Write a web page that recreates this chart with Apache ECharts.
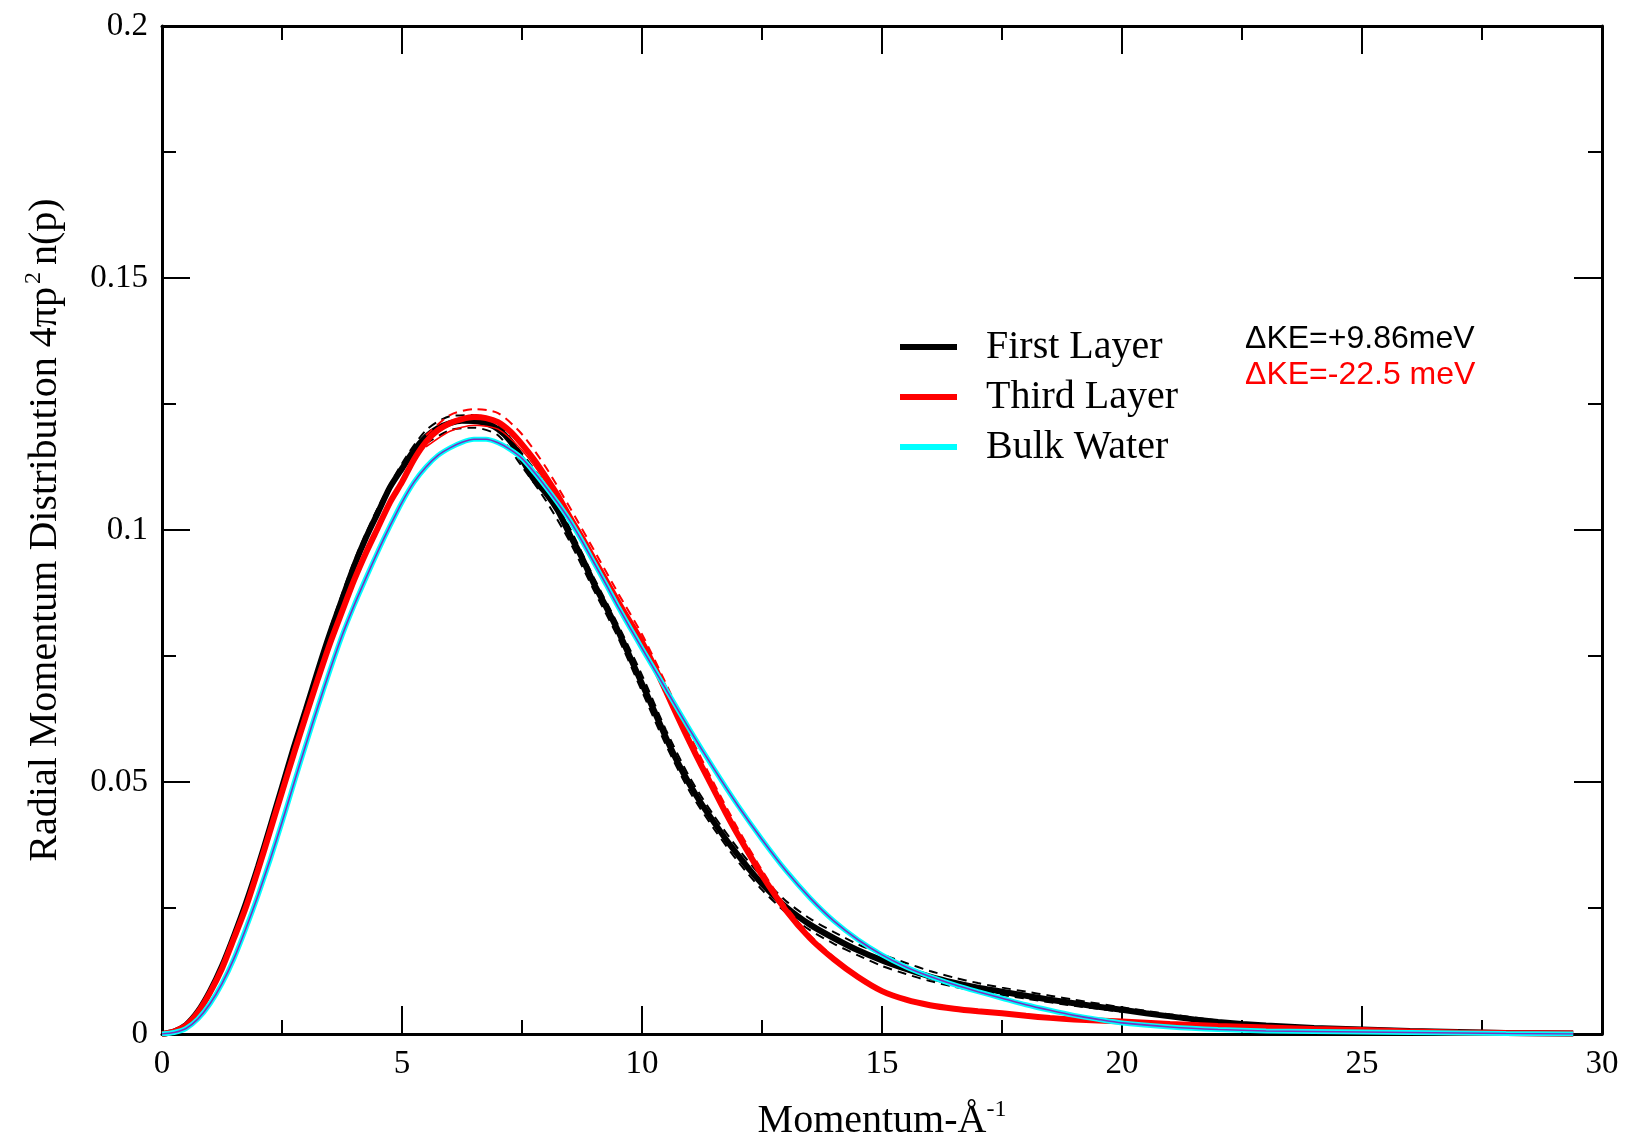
<!DOCTYPE html>
<html>
<head>
<meta charset="utf-8">
<script src="https://cdn.jsdelivr.net/npm/echarts@6/dist/echarts.min.js"></script>
<style>html,body{margin:0;padding:0;background:#fff}#c{width:1627px;height:1142px}</style>
</head>
<body>
<div id="c"></div>
<script>
// Momentum (1/Å) , 4πp²n(p)
const firstLayer = [[0,0],[0.25,0.0005],[0.5,0.0018],[0.75,0.0045],[1,0.0085],[1.25,0.0135],[1.5,0.0195],[1.75,0.026],[2,0.0332],[2.25,0.041],[2.5,0.049],[2.75,0.057],[3,0.0645],[3.25,0.0722],[3.5,0.0795],[3.75,0.0862],[4,0.0928],[4.25,0.0985],[4.5,0.1035],[4.75,0.1085],[5,0.1122],[5.25,0.1158],[5.5,0.1185],[5.75,0.1202],[6,0.1212],[6.25,0.1217],[6.5,0.1216],[6.75,0.1212],[7,0.12],[7.25,0.1177],[7.5,0.114],[7.75,0.11],[8,0.1073],[8.25,0.1038],[8.5,0.099],[8.75,0.0945],[9,0.0893],[9.25,0.0848],[9.5,0.08],[9.75,0.0748],[10,0.0695],[10.25,0.0642],[10.5,0.0588],[10.75,0.0538],[11,0.0494],[11.25,0.0455],[11.5,0.042],[11.75,0.0386],[12,0.0355],[12.25,0.0325],[12.5,0.0298],[13,0.0252],[13.5,0.0217],[14,0.019],[14.5,0.0166],[15,0.0146],[15.5,0.0129],[16,0.0114],[16.5,0.0102],[17,0.0092],[17.5,0.0084],[18,0.0076],[18.5,0.0068],[19,0.0061],[19.5,0.0054],[20,0.0048],[20.5,0.0041],[21,0.0035],[21.5,0.0029],[22,0.0024],[22.5,0.002],[23,0.0017],[24,0.0012],[25,0.0009],[26,0.0006],[27,0.0004],[28,0.0002],[29.4,0.0001]];
const firstUpper = [[3.5,0.0805],[4,0.0938],[4.5,0.1045],[5,0.1132],[5.5,0.1198],[6,0.1226],[6.5,0.1228],[7,0.121],[7.5,0.1152],[8,0.1088],[8.5,0.1003],[9,0.0905],[9.5,0.0812],[10,0.0712],[10.5,0.0603],[11,0.0508],[11.5,0.0433],[12,0.0368],[12.5,0.0311],[13,0.0264],[13.5,0.0229],[14,0.0202],[14.5,0.0178],[15,0.0158],[15.5,0.0141],[16,0.0125],[16.5,0.0112],[17,0.0101],[17.5,0.0092],[18,0.0084],[18.5,0.0076],[19,0.0068],[20,0.0053],[21,0.0039],[22,0.0027]];
const firstLower = [[5.5,0.1172],[6,0.1198],[6.5,0.1203],[7,0.1188],[7.5,0.1126],[8,0.1058],[8.5,0.0976],[9,0.088],[9.5,0.0787],[10,0.068],[10.5,0.0573],[11,0.048],[11.5,0.0407],[12,0.0342],[12.5,0.0286],[13,0.0241],[13.5,0.0206],[14,0.0179],[14.5,0.0156],[15,0.0135],[15.5,0.0119],[16,0.0105],[16.5,0.0094],[17,0.0085],[18,0.007],[19,0.0056],[20,0.0044]];
const thirdLayer = [[0,0],[0.25,0.0005],[0.5,0.0017],[0.75,0.0043],[1,0.0082],[1.25,0.013],[1.5,0.019],[1.75,0.0252],[2,0.0325],[2.25,0.0402],[2.5,0.048],[2.75,0.0557],[3,0.0632],[3.25,0.0705],[3.5,0.0775],[3.75,0.0838],[4,0.09],[4.25,0.0955],[4.5,0.1005],[4.75,0.1055],[5,0.1095],[5.25,0.114],[5.5,0.1175],[5.75,0.1198],[6,0.1212],[6.25,0.122],[6.5,0.1224],[6.75,0.1222],[7,0.1214],[7.25,0.1196],[7.5,0.117],[7.75,0.114],[8,0.1105],[8.25,0.1068],[8.5,0.1025],[8.75,0.0985],[9,0.0942],[9.25,0.09],[9.5,0.0858],[9.75,0.0818],[10,0.0778],[10.25,0.0731],[10.5,0.068],[10.75,0.0628],[11,0.0578],[11.25,0.053],[11.5,0.0484],[11.75,0.0438],[12,0.0395],[12.5,0.0315],[13,0.0245],[13.5,0.019],[14,0.0148],[14.5,0.0113],[15,0.0085],[15.5,0.0068],[16,0.0057],[16.5,0.005],[17,0.0045],[17.5,0.0041],[18,0.0036],[18.5,0.0032],[19,0.0029],[20,0.0025],[21,0.002],[22,0.0016],[23,0.0013],[24,0.001],[25,0.0008],[26,0.0005],[27,0.0003],[28,0.0002],[29.4,0.0001]];
const thirdUpper = [[5.5,0.1188],[6,0.1228],[6.5,0.124],[7,0.1232],[7.5,0.119],[8,0.1124],[8.5,0.1044],[9,0.096],[9.5,0.0875],[10,0.0793],[10.5,0.0695],[11,0.0592],[11.5,0.0497],[12,0.0407],[12.5,0.0325],[13,0.0253],[13.5,0.0196],[14,0.0152]];
const thirdInner = [[5.5,0.1165],[6,0.1196],[6.5,0.1208],[7,0.12],[7.5,0.1158],[8,0.1094],[8.5,0.1015]];
const bulkWater = [[0,0],[0.25,0.0003],[0.5,0.0011],[0.75,0.003],[1,0.006],[1.25,0.01],[1.5,0.015],[1.75,0.021],[2,0.0275],[2.25,0.0345],[2.5,0.042],[2.75,0.0498],[3,0.0575],[3.25,0.065],[3.5,0.0722],[3.75,0.079],[4,0.085],[4.25,0.0905],[4.5,0.0958],[4.75,0.1008],[5,0.1055],[5.25,0.1095],[5.5,0.1125],[5.75,0.1148],[6,0.1163],[6.25,0.1174],[6.5,0.118],[6.75,0.118],[7,0.1173],[7.25,0.116],[7.5,0.1142],[7.75,0.1115],[8,0.1085],[8.25,0.1053],[8.5,0.1018],[8.75,0.0978],[9,0.0935],[9.25,0.0892],[9.5,0.0848],[9.75,0.0806],[10,0.0765],[10.5,0.0684],[11,0.0603],[11.5,0.0526],[12,0.0453],[12.5,0.0386],[13,0.0324],[13.5,0.027],[14,0.0224],[14.5,0.0187],[15,0.0157],[15.5,0.0133],[16,0.0114],[16.5,0.0098],[17,0.0084],[17.5,0.0071],[18,0.0058],[18.5,0.0047],[19,0.0037],[19.5,0.0029],[20,0.0022],[21,0.0014],[22,0.0009],[23,0.0006],[24,0.0005],[25,0.0004],[26,0.0003],[27,0.0002],[28,0.0001],[29.4,0]];
const seriesNames = ['First Layer', 'Third Layer', 'Bulk Water'];
const annotations = ['ΔKE=+9.86meV', 'ΔKE=-22.5 meV'];
const xTitle = 'Momentum-Å{sup|-1}';
const yTitle = 'Radial Momentum Distribution 4πp{sup|2}n(p)';

const serif = '"Liberation Serif", "DejaVu Serif", serif';
const chart = echarts.init(document.getElementById('c'), null, {renderer: 'canvas'});

function axisCommon(showLabel) {
  return {
    axisLine: {show: true, onZero: false, lineStyle: {color: '#000', width: 3}},
    axisTick: {show: true, inside: true, length: 28, lineStyle: {color: '#000', width: 2}},
    minorTick: {show: true, splitNumber: 2, length: 14, lineStyle: {color: '#000', width: 2}},
    splitLine: {show: false},
    axisLabel: {show: showLabel, fontFamily: serif, fontSize: 33, color: '#000', margin: 14}
  };
}

function line(name, data, color, width, type, z) {
  return {
    name: name, type: 'line', data: data, showSymbol: false, symbol: 'none',
    smooth: 0.25, z: z, animation: false, color: color,
    lineStyle: {color: color, width: width, type: type || 'solid'},
    emphasis: {disabled: true}
  };
}

const option = {
  animation: false,
  backgroundColor: '#fff',
  grid: {left: 162, top: 26, right: 25, bottom: 108, containLabel: false, outerBoundsMode: 'none'},
  xAxis: [
    Object.assign({type: 'value', min: 0, max: 30, interval: 5, position: 'bottom',
      name: xTitle, nameLocation: 'middle', nameGap: 64,
      nameTextStyle: {fontFamily: serif, fontSize: 40, color: '#000',
        rich: {sup: {fontFamily: serif, fontSize: 24, color: '#000', padding: [0, 0, 22, 0]}}}
    }, axisCommon(true)),
    Object.assign({type: 'value', min: 0, max: 30, interval: 5, position: 'top'}, axisCommon(false))
  ],
  yAxis: [
    Object.assign({type: 'value', min: 0, max: 0.2, interval: 0.05, position: 'left',
      name: yTitle, nameLocation: 'middle', nameGap: 94,
      nameTextStyle: {fontFamily: serif, fontSize: 40, color: '#000',
        rich: {sup: {fontFamily: serif, fontSize: 24, color: '#000', padding: [0, 7, 22, 3]}}}
    }, axisCommon(true)),
    Object.assign({type: 'value', min: 0, max: 0.2, interval: 0.05, position: 'right'}, axisCommon(false))
  ],
  legend: {
    data: seriesNames, orient: 'vertical', left: 895, top: 322,
    icon: 'rect', itemWidth: 57, itemHeight: 6, itemGap: 10, selectedMode: false,
    textStyle: {fontFamily: serif, fontSize: 40, color: '#000', padding: [0, 0, 0, 24], lineHeight: 40}
  },
  graphic: [
    {type: 'text', left: 1245, top: 323, silent: true,
      style: {text: annotations[0], font: '32px "Liberation Sans", Arial, sans-serif', fill: '#000'}},
    {type: 'text', left: 1245, top: 359, silent: true,
      style: {text: annotations[1], font: '32px "Liberation Sans", Arial, sans-serif', fill: '#ff0000'}}
  ],
  series: [
    line('fl-upper', firstUpper, '#000', 2, [9, 6], 2),
    line('fl-lower', firstLower, '#000', 2, [9, 6], 2),
    line(seriesNames[0], firstLayer, '#000', 6, 'solid', 3),
    line('tl-upper', thirdUpper, '#ff0000', 2, [9, 6], 5),
    line(seriesNames[1], thirdLayer, '#ff0000', 6, 'solid', 4),
    line('tl-inner', thirdInner, '#ff0000', 1.5, 'solid', 5),
    line(seriesNames[2], bulkWater, '#00ffff', 5, 'solid', 6),
    line('bw-center', bulkWater, '#7b2fbe', 1.6, 'solid', 7)
  ]
};
chart.setOption(option);
</script>
</body>
</html>
